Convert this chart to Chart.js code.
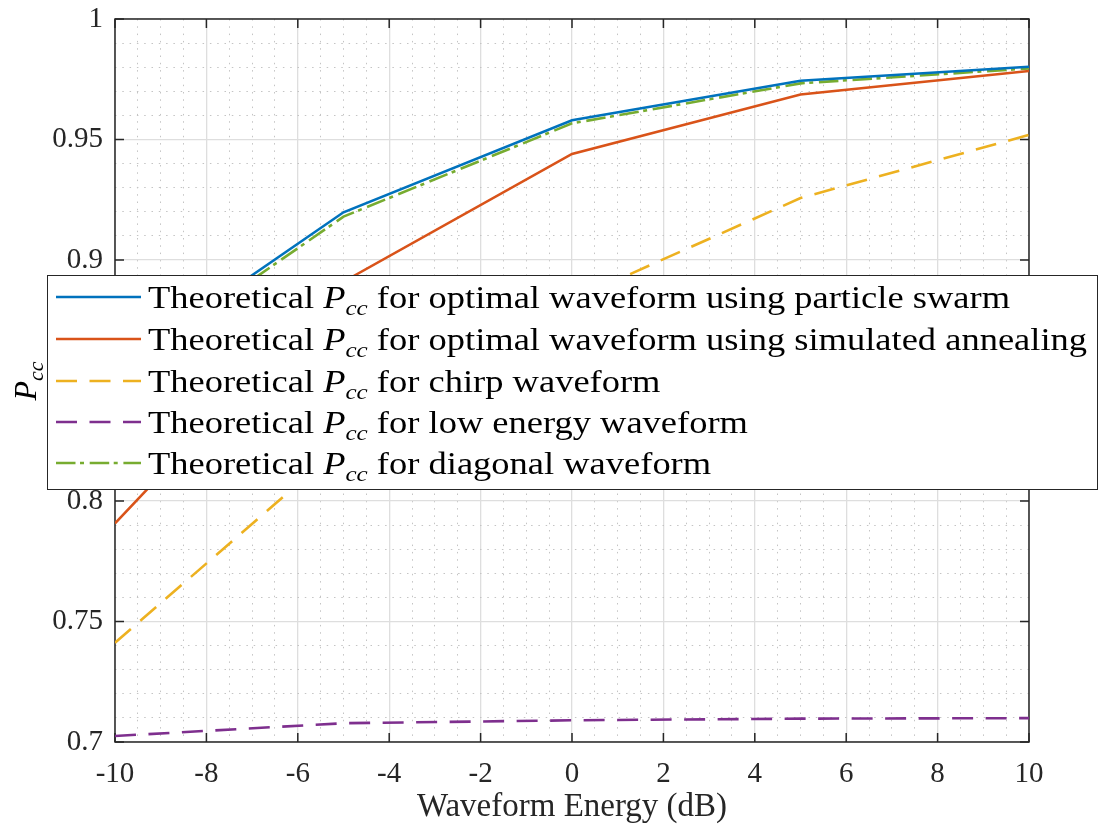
<!DOCTYPE html>
<html>
<head>
<meta charset="utf-8">
<script src="https://cdn.jsdelivr.net/npm/chart.js@4.4.1/dist/chart.umd.min.js"></script>
<style>
  body { margin: 0; background: #fff; }
  #wrap { position: relative; width: 1101px; height: 827px; font-family: "Liberation Serif", serif; color: #000; }
  #myChart { position: absolute; left: 0; top: 0; }
  #legend { position: absolute; left: 47px; top: 275px; width: 1051px; height: 215px; box-sizing: border-box;
            border: 1.5px solid #262626; background: #fff; }
  .row { position: absolute; left: 0; height: 40px; width: 100%; }
  .row > svg { position: absolute; left: 7px; top: 15px; }
  .row > .txt { position: absolute; left: 100px; top: 0; line-height: 40px; font-size: 32px; white-space: nowrap;
                transform: scaleX(1.14); transform-origin: 0 50%; }
  .sub { font-style: italic; font-size: 22px; position: relative; top: 7px; }
  #ytitle { position: absolute; left: 27px; top: 381px; transform: translate(-50%, -50%) rotate(-90deg);
            font-size: 32px; line-height: 40px; white-space: nowrap; }
</style>
</head>
<body>
<div id="wrap">
  <canvas id="myChart" width="1101" height="827"></canvas>
  <div id="ytitle"><i>P</i><span class="sub">cc</span></div>
  <div id="legend"></div>
</div>
<script>
// Waveform energy (dB) and theoretical Pcc
const energyDb = [-10, -5, 0, 5, 10];
const pccParticleSwarm = [0.8545, 0.9198, 0.9580, 0.9744, 0.9802];
const pccSimAnnealing = [0.7907, 0.8910, 0.9440, 0.9687, 0.9784];
const pccChirp = [0.7412, 0.8234, 0.8834, 0.9257, 0.9519];
const pccLowEnergy = [0.7025, 0.7078, 0.7090, 0.7097, 0.7099];
const pccDiagonal = [0.8524, 0.9180, 0.9567, 0.9733, 0.9795];

const seriesNames = [
    'for optimal waveform using particle swarm',
    'for optimal waveform using simulated annealing',
    'for chirp waveform',
    'for low energy waveform',
    'for diagonal waveform'
];

// Tick labels (major); minor grid subdivides each step
const xMajorTicks = [-10, -8, -6, -4, -2, 0, 2, 4, 6, 8, 10];
const yMajorTicks = [0.7, 0.75, 0.8, 0.85, 0.9, 0.95, 1];
const xMinorPerMajor = 4;
const yMinorPerMajor = 5;

function withMinor(major, n) {
    let out = [];
    for (let i = 0; i < major.length - 1; i++) {
        const step = (major[i + 1] - major[i]) / n;
        for (let k = 0; k < n; k++) out.push(major[i] + k * step);
    }
    out.push(major[major.length - 1]);
    return out;
}
const isMajor = (list, v) => list.some(m => Math.abs(m - v) < 1e-9);

function pts(ys) {
    return energyDb.map((x, i) => ({ x: x, y: ys[i] }));
}

const lineStyles = [
    { color: '#0072BD', dash: [] },
    { color: '#D95319', dash: [] },
    { color: '#EDB120', dash: [21, 12.5] },
    { color: '#7E2F8E', dash: [21, 12.5] },
    { color: '#77AC30', dash: [19.5, 4.5, 4, 5.7] }
];
const seriesData = [pccParticleSwarm, pccSimAnnealing, pccChirp, pccLowEnergy, pccDiagonal];

const datasets = seriesData.map((ys, i) => ({
    label: 'Theoretical Pcc ' + seriesNames[i],
    data: pts(ys),
    borderColor: lineStyles[i].color,
    borderDash: lineStyles[i].dash,
    borderWidth: 2.6,
    pointRadius: 0,
    tension: 0,
    fill: false
}));

// Box around the plot with inward ticks, like the original axes
const axesBox = {
    id: 'axesBox',
    beforeDatasetsDraw(chart) {
        const { ctx, chartArea: a, scales: { x, y } } = chart;
        ctx.save();
        ctx.strokeStyle = '#262626';
        ctx.lineWidth = 1.5;
        ctx.setLineDash([]);
        ctx.strokeRect(a.left, a.top, a.right - a.left, a.bottom - a.top);
        ctx.beginPath();
        xMajorTicks.forEach(v => {
            const px = x.getPixelForValue(v);
            ctx.moveTo(px, a.bottom); ctx.lineTo(px, a.bottom - 9);
            ctx.moveTo(px, a.top); ctx.lineTo(px, a.top + 9);
        });
        yMajorTicks.forEach(v => {
            const py = y.getPixelForValue(v);
            ctx.moveTo(a.left, py); ctx.lineTo(a.left + 9, py);
            ctx.moveTo(a.right, py); ctx.lineTo(a.right - 9, py);
        });
        ctx.stroke();
        ctx.restore();
    }
};

const tickFont = { family: 'Liberation Serif', size: 29 };

function gridFor(major) {
    return {
        color: c => (c.tick && isMajor(major, c.tick.value)) ? '#dedede' : '#c4c4c4',
        lineWidth: c => (c.tick && isMajor(major, c.tick.value)) ? 1.3 : 1,
        drawTicks: false
    };
}
function borderFor(major) {
    return {
        display: false,
        dash: c => (c.tick && !isMajor(major, c.tick.value)) ? [1.5, 5.8] : []
    };
}

let ctx = document.getElementById('myChart').getContext('2d');
let myChart = new Chart(ctx, {
    type: 'line',
    data: { datasets: datasets },
    options: {
        responsive: false,
        animation: false,
        layout: { padding: { left: 0, right: 72, top: 19, bottom: 0 } },
        plugins: { legend: { display: false }, tooltip: { enabled: false } },
        scales: {
            x: {
                type: 'linear',
                min: -10,
                max: 10,
                afterBuildTicks: s => { s.ticks = withMinor(xMajorTicks, xMinorPerMajor).map(v => ({ value: v })); },
                afterFit: s => { s.height = 85; s.paddingLeft = 0; s.paddingRight = 0; },
                ticks: {
                    autoSkip: false,
                    maxRotation: 0,
                    padding: 15,
                    color: '#262626',
                    font: tickFont,
                    callback: v => isMajor(xMajorTicks, v) ? String(Math.round(v)) : ''
                },
                grid: gridFor(xMajorTicks),
                border: borderFor(xMajorTicks),
                title: {
                    display: true,
                    text: 'Waveform Energy (dB)',
                    color: '#262626',
                    font: { family: 'Liberation Serif', size: 33 },
                    padding: { top: -9, bottom: 0 }
                }
            },
            y: {
                type: 'linear',
                min: 0.7,
                max: 1,
                afterBuildTicks: s => { s.ticks = withMinor(yMajorTicks, yMinorPerMajor).map(v => ({ value: v })); },
                afterFit: s => { s.width = 115; s.paddingTop = 0; s.paddingBottom = 0; },
                ticks: {
                    autoSkip: false,
                    padding: 12,
                    color: '#262626',
                    font: tickFont,
                    callback: v => isMajor(yMajorTicks, v) ? String(+v.toFixed(2)) : ''
                },
                grid: gridFor(yMajorTicks),
                border: borderFor(yMajorTicks)
            }
        }
    },
    plugins: [axesBox]
});

// Legend drawn over the plot, as in the figure
const legend = document.getElementById('legend');
const rowTops = [0.5, 42.5, 84.5, 125.5, 166.5];
datasets.forEach((d, i) => {
    const row = document.createElement('div');
    row.className = 'row';
    row.style.top = rowTops[i] + 'px';
    const dash = d.borderDash.length ? d.borderDash.join(',') : 'none';
    row.innerHTML =
        '<svg width="86" height="10"><line x1="1" y1="5" x2="86" y2="5" stroke="' + d.borderColor +
        '" stroke-width="2.6" stroke-dasharray="' + dash + '"/></svg>' +
        '<span class="txt">Theoretical <i>P</i><span class="sub">cc</span> ' + seriesNames[i] + '</span>';
    legend.appendChild(row);
});
</script>
</body>
</html>
